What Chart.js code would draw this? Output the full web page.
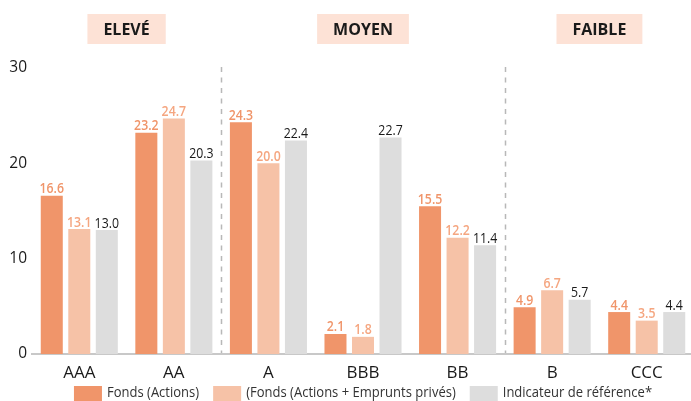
<!DOCTYPE html>
<html><head><meta charset="utf-8">
<script src="https://cdn.jsdelivr.net/npm/chart.js@4.4.0/dist/chart.umd.min.js"></script>
<style>html,body{margin:0;padding:0;background:#fff;overflow:hidden}
#wrap{width:691px;height:401px;overflow:hidden;position:relative}
canvas{display:block}
</style></head><body><div id="wrap"><canvas id="c" width="694" height="401"></canvas></div>
<script>
const categories = ['AAA','AA','A','BBB','BB','B','CCC'];
const seriesNames = ['Fonds (Actions)','(Fonds (Actions + Emprunts privés)','Indicateur de référence*'];
const fondsActions = [16.6,23.2,24.3,2.1,15.5,4.9,4.4];
const fondsMixtes = [13.1,24.7,20.0,1.8,12.2,6.7,3.5];
const indicateur = [13.0,20.3,22.4,22.7,11.4,5.7,4.4];
const yTicks = [0,10,20,30];
const groupLabels = ['ELEVÉ','MOYEN','FAIBLE'];
const groupFirst = [0,2,5];
const groupLast = [1,4,6];

const barColors = ['#f0956a','#f6c2a7','#dddddd'];
const labelColors = ['#f0956a','#f5a680','#1a1a1a'];
const FONT = '"Open Sans", "Noto Sans", sans-serif';

function narrowText(ctx, text, x, y, sx){
  ctx.save();
  ctx.translate(x, y);
  ctx.scale(sx, 1);
  ctx.fillText(text, 0, 0);
  ctx.restore();
}

const overlay = {
  id:'overlay',
  beforeDatasetsDraw(chart){
    const ctx = chart.ctx, xs = chart.scales.x, ca = chart.chartArea;
    ctx.save();
    ctx.strokeStyle = '#b8b8b8';
    ctx.lineWidth = 1.5;
    ctx.setLineDash([5,5.5]);
    for (let g=0; g<groupLast.length-1; g++){
      const x = (xs.getPixelForValue(groupLast[g]) + xs.getPixelForValue(groupLast[g]+1))/2;
      ctx.beginPath();
      ctx.moveTo(Math.round(x)+0.5, ca.top-1);
      ctx.lineTo(Math.round(x)+0.5, ca.bottom-1);
      ctx.stroke();
    }
    ctx.restore();
  },
  afterDraw(chart){
    const ctx = chart.ctx, xs = chart.scales.x, ca = chart.chartArea;
    ctx.save();
    // group headers
    ctx.font = 'bold 16px ' + FONT;
    ctx.textAlign = 'center';
    ctx.textBaseline = 'middle';
    for (let g=0; g<groupLabels.length; g++){
      const cx = (xs.getPixelForValue(groupFirst[g]) + xs.getPixelForValue(groupLast[g]))/2;
      const w = ctx.measureText(groupLabels[g]).width + 32;
      ctx.fillStyle = '#fde2d6';
      ctx.fillRect(cx - w/2, 14, w, 30);
      ctx.fillStyle = '#1a1a1a';
      ctx.fillText(groupLabels[g], cx, 30);
    }
    // data labels
    ctx.textBaseline = 'alphabetic';
    chart.data.datasets.forEach((ds, i) => {
      const meta = chart.getDatasetMeta(i);
      ctx.fillStyle = labelColors[i];
      ctx.font = (i === 2 ? '' : '600 ') + '14px ' + FONT;
      meta.data.forEach((bar, j) => {
        narrowText(ctx, ds.data[j].toFixed(1), bar.x, bar.y - 2.5, 0.88);
      });
    });
    // legend
    ctx.font = '14px ' + FONT;
    ctx.textAlign = 'left';
    ctx.textBaseline = 'middle';
    const sx = 0.93;
    const bw = 28, gap = 5, sep = 14;
    const widths = seriesNames.map(s => ctx.measureText(s).width * sx);
    const total = widths.reduce((a,b)=>a+b+bw+gap,0) + sep*(seriesNames.length-1);
    let x = (ca.left + ca.right)/2 - total/2;
    seriesNames.forEach((s, i) => {
      ctx.fillStyle = barColors[i];
      ctx.fillRect(x, 386, bw, 15);
      ctx.fillStyle = '#333333';
      narrowText(ctx, s, x + bw + gap, 393.5, sx);
      x += bw + gap + widths[i] + sep;
    });
    ctx.restore();
  }
};

new Chart(document.getElementById('c'), {
  type:'bar',
  data:{
    labels: categories,
    datasets:[
      {label:seriesNames[0], data:fondsActions, backgroundColor:barColors[0]},
      {label:seriesNames[1], data:fondsMixtes, backgroundColor:barColors[1]},
      {label:seriesNames[2], data:indicateur, backgroundColor:barColors[2]}
    ]
  },
  options:{
    responsive:false,
    animation:false,
    events:[],
    categoryPercentage:0.873,
    barPercentage:0.8,
    layout:{padding:{top:68,left:0,right:0,bottom:0}},
    plugins:{legend:{display:false}, tooltip:{enabled:false}},
    scales:{
      x:{
        grid:{display:false, drawTicks:false},
        border:{display:true, color:'#c8c8c8', width:2},
        ticks:{color:'#1a1a1a', font:{family:FONT, size:17}, padding:9, maxRotation:0, autoSkip:false},
        afterFit(s){ s.height = 47; }
      },
      y:{
        min:0, max:30,
        grid:{display:false, drawTicks:false},
        border:{display:false},
        ticks:{color:'#1a1a1a', font:{family:FONT, size:15.5}, padding:5, stepSize:10},
        afterBuildTicks(s){ s.ticks = yTicks.map(v=>({value:v})); },
        afterFit(s){ s.width = 32; }
      }
    }
  },
  plugins:[overlay]
});
</script></body></html>
